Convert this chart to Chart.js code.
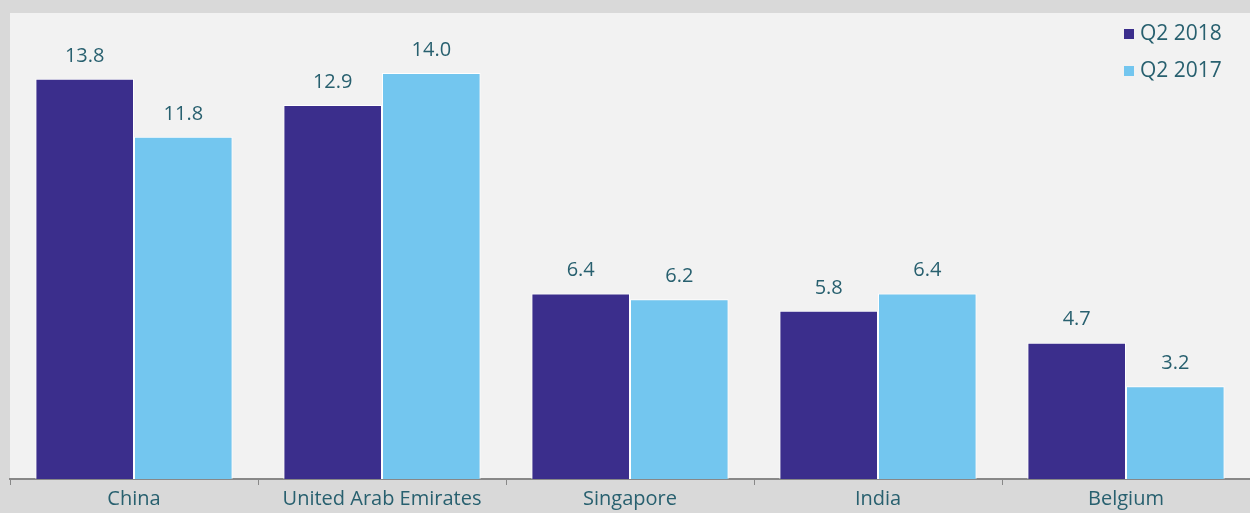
<!DOCTYPE html>
<html>
<head>
<meta charset="utf-8">
<script src="https://cdn.jsdelivr.net/npm/chart.js@4"></script>
<style>
  html, body { margin: 0; padding: 0; background: #d9d9d9; }
  #wrap { width: 1250px; height: 513px; position: relative; }
</style>
</head>
<body>
<div id="wrap"><canvas id="chart"></canvas></div>
<script>
const countries = ['China', 'United Arab Emirates', 'Singapore', 'India', 'Belgium'];
const q2_2018 = [13.8, 12.9, 6.4, 5.8, 4.7];
const q2_2017 = [11.8, 14.0, 6.2, 6.4, 3.2];
const seriesNames = ['Q2 2018', 'Q2 2017'];

const textColor = '#28606f';
const fontFamily = '"Open Sans", "Noto Sans", sans-serif';

// light panel behind the plot
const panelBg = {
  id: 'panelBg',
  beforeDraw(chart) {
    const { ctx, chartArea } = chart;
    ctx.save();
    ctx.fillStyle = '#f2f2f2';
    ctx.fillRect(chartArea.left, 13, chart.width - chartArea.left, chartArea.bottom - 13);
    ctx.restore();
  }
};

// value labels above bars
const barLabels = {
  id: 'barLabels',
  afterDatasetsDraw(chart) {
    const ctx = chart.ctx;
    ctx.save();
    ctx.font = '20px ' + fontFamily;
    ctx.fillStyle = textColor;
    ctx.textAlign = 'center';
    ctx.textBaseline = 'middle';
    chart.data.datasets.forEach((ds, i) => {
      chart.getDatasetMeta(i).data.forEach((bar, j) => {
        ctx.fillText(ds.data[j].toFixed(1), bar.x, bar.y - 23);
      });
    });
    ctx.restore();
  }
};

// legend in the top right corner
const cornerLegend = {
  id: 'cornerLegend',
  afterDraw(chart) {
    const ctx = chart.ctx;
    ctx.save();
    ctx.font = '21px ' + fontFamily;
    ctx.textBaseline = 'middle';
    chart.data.datasets.forEach((ds, i) => {
      const y = 34 + i * 37;
      ctx.fillStyle = ds.backgroundColor;
      ctx.fillRect(1124, y - 5, 10, 10);
      ctx.fillStyle = textColor;
      ctx.fillText(ds.label, 1140, y);
    });
    ctx.restore();
  }
};

const ctx = document.getElementById('chart').getContext('2d');
new Chart(ctx, {
  type: 'bar',
  data: {
    labels: countries,
    datasets: [
      {
        label: seriesNames[0],
        data: q2_2018,
        backgroundColor: '#3b2e8c',
        borderColor: '#ffffff',
        borderWidth: 1,
        barPercentage: 1.0,
        categoryPercentage: 0.795
      },
      {
        label: seriesNames[1],
        data: q2_2017,
        backgroundColor: '#73c6ef',
        borderColor: '#ffffff',
        borderWidth: 1,
        barPercentage: 1.0,
        categoryPercentage: 0.795
      }
    ]
  },
  options: {
    responsive: true,
    maintainAspectRatio: false,
    animation: false,
    layout: {
      padding: { left: 10, right: -2, top: 15, bottom: 0 }
    },
    scales: {
      y: {
        display: false,
        min: 0,
        max: 16
      },
      x: {
        grid: {
          drawOnChartArea: false,
          color: '#888888',
          tickLength: 6,
          offset: true
        },
        border: {
          color: '#888888',
          width: 2
        },
        ticks: {
          color: textColor,
          padding: 2,
          font: { size: 20, family: fontFamily }
        }
      }
    },
    plugins: {
      legend: { display: false },
      tooltip: { enabled: false }
    }
  },
  plugins: [panelBg, barLabels, cornerLegend]
});
</script>
</body>
</html>
